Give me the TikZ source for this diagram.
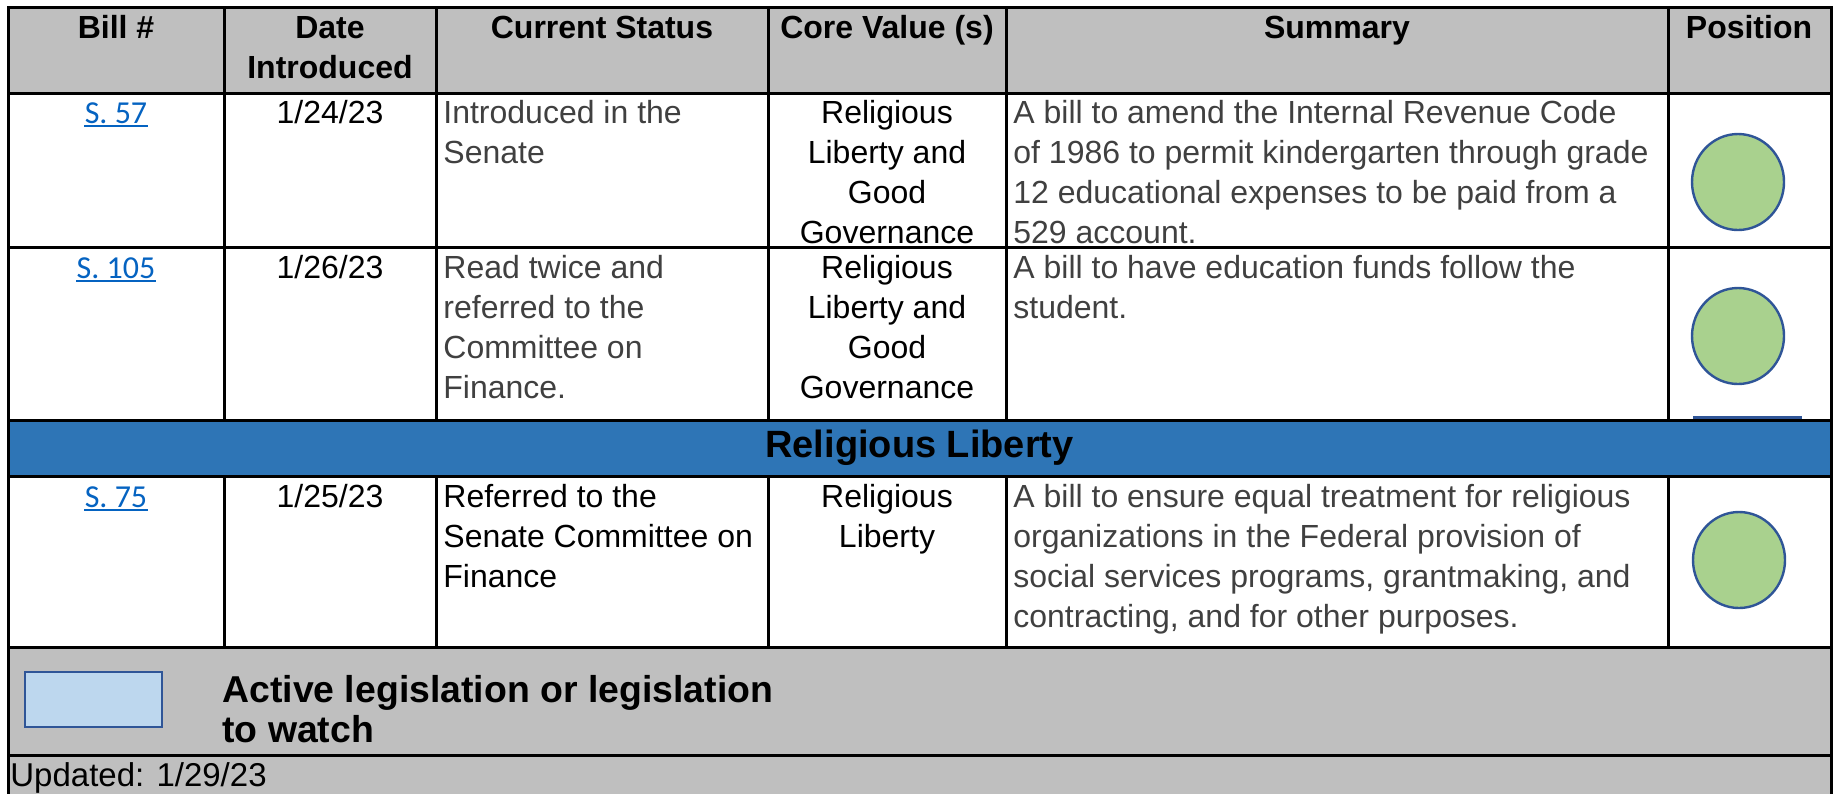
\documentclass[tikz,border=0pt]{standalone}
\usepackage{fontspec}
\setmainfont{Liberation Sans}
\newfontfamily\linkfont{Carlito}
\usetikzlibrary{shapes.geometric}
\definecolor{hdrgray}{HTML}{BFBFBF}
\definecolor{bandblue}{HTML}{2E75B6}
\definecolor{txtgray}{HTML}{404040}
\definecolor{linkblue}{HTML}{0563C1}
\definecolor{dotgreen}{HTML}{A9D18E}
\definecolor{dotedge}{HTML}{2F5597}
\definecolor{legfill}{HTML}{BDD7EE}
\newcommand\bodyf{\fontsize{16}{20}\selectfont}
\newcommand\hdrf{\fontsize{16}{20}\selectfont\bfseries}
\newcommand\bandf{\fontsize{19}{23}\selectfont\bfseries}
\newcommand\legf{\fontsize{18.7}{21}\selectfont\bfseries}
\newcommand\updf{\fontsize{16.5}{20}\selectfont}
\tikzset{
  grid/.style={line width=1.5pt, black},
  hdr/.style={anchor=base, inner sep=0pt, font=\hdrf, text=black},
  cl/.style={anchor=base, inner sep=0pt, font=\bodyf, text=black},
  gl/.style={anchor=base west, inner sep=0pt, font=\bodyf, text=txtgray},
  bl/.style={anchor=base west, inner sep=0pt, font=\bodyf, text=black},
  lnk/.style={anchor=base, inner sep=0pt, font=\linkfont\fontsize{16}{20}\selectfont, text=linkblue},
  uline/.style={linkblue, line width=1pt},
  dot/.style={ellipse, draw=dotedge, fill=dotgreen, line width=1.2pt, minimum width=46pt, minimum height=48pt, inner sep=0pt}
}
\begin{document}
\begin{tikzpicture}[x=0.5pt,y=-0.5pt]
\useasboundingbox (0,0) rectangle (1836,794);
% fills
\fill[hdrgray] (8,7) rectangle (1831,93);
\fill[bandblue] (8,420) rectangle (1831,476);
\fill[hdrgray] (8,647) rectangle (1831,794);
% grid
\foreach \yy in {7,93,247,420,476,647,755} \draw[grid] (8,\yy) -- (1831,\yy);
\foreach \xx in {224,436,768,1006,1668} {
  \draw[grid] (\xx,7) -- (\xx,420);
  \draw[grid] (\xx,476) -- (\xx,647);
}
\draw[grid] (8,6.25) -- (8,794);
\draw[grid] (1831,6.25) -- (1831,794);
% header
\node[hdr] (h1) at (116,38) {Bill \#};
\node[hdr] (h2a) at (330,38) {Date};
\node[hdr] (h2b) at (330,78) {Introduced};
\node[hdr] (h3) at (602,38) {Current Status};
\node[hdr] (h4) at (887,38) {Core Value (s)};
\node[hdr] (h5) at (1337,38) {Summary};
\node[hdr] (h6) at (1749,38) {Position};
% row 1
\node[lnk] (l1) at (116,123) {S. 57};
\draw[uline] ([yshift=-1.7pt]l1.base west) -- ([yshift=-1.7pt]l1.base east);
\node[cl] (d1) at (330,123) {1/24/23};
\node[gl] (s1a) at (443,123) {Introduced in the};
\node[gl] (s1b) at (443,163) {Senate};
\node[cl] (c1a) at (887,123) {Religious};
\node[cl] (c1b) at (887,163) {Liberty and};
\node[cl] (c1c) at (887,203) {Good};
\node[cl] (c1d) at (887,243) {Governance};
\node[gl] (m1a) at (1013,123) {A bill to amend the Internal Revenue Code};
\node[gl] (m1b) at (1013,163) {of 1986 to permit kindergarten through grade};
\node[gl] (m1c) at (1013,203) {12 educational expenses to be paid from a};
\node[gl] (m1d) at (1013,243) {529 account.};
\node[dot] (p1) at (1738,182) {};
% row 2
\node[lnk] (l2) at (116,278) {S. 105};
\draw[uline] ([yshift=-1.7pt]l2.base west) -- ([yshift=-1.7pt]l2.base east);
\node[cl] (d2) at (330,278) {1/26/23};
\node[gl] (s2a) at (443,278) {Read twice and};
\node[gl] (s2b) at (443,318) {referred to the};
\node[gl] (s2c) at (443,358) {Committee on};
\node[gl] (s2d) at (443,398) {Finance.};
\node[cl] (c2a) at (887,278) {Religious};
\node[cl] (c2b) at (887,318) {Liberty and};
\node[cl] (c2c) at (887,358) {Good};
\node[cl] (c2d) at (887,398) {Governance};
\node[gl] (m2a) at (1013,278) {A bill to have education funds follow the};
\node[gl] (m2b) at (1013,318) {student.};
\node[dot] (p2) at (1738,336) {};
\coordinate (bl1) at (1693,417.5);
\coordinate (bl2) at (1802,417.5);
\draw[dotedge, line width=1.2pt] (bl1) -- (bl2);
% band
\node[anchor=base, inner sep=0pt, font=\bandf, text=black] (band) at (919.5,457) {Religious Liberty};
% row 3
\node[lnk] (l3) at (116,507) {S. 75};
\draw[uline] ([yshift=-1.7pt]l3.base west) -- ([yshift=-1.7pt]l3.base east);
\node[cl] (d3) at (330,507) {1/25/23};
\node[bl] (s3a) at (443,507) {Referred to the};
\node[bl] (s3b) at (443,547) {Senate Committee on};
\node[bl] (s3c) at (443,587) {Finance};
\node[cl] (c3a) at (887,507) {Religious};
\node[cl] (c3b) at (887,547) {Liberty};
\node[gl] (m3a) at (1013,507) {A bill to ensure equal treatment for religious};
\node[gl] (m3b) at (1013,547) {organizations in the Federal provision of};
\node[gl] (m3c) at (1013,587) {social services programs, grantmaking, and};
\node[gl] (m3d) at (1013,627) {contracting, and for other purposes.};
\node[dot] (p3) at (1739,560) {};
% legend
\node[draw=dotedge, fill=legfill, line width=1.2pt, minimum width=68.5pt, minimum height=27.5pt, inner sep=0pt] (legbox) at (93.5,699.5) {};
\node[anchor=base west, inner sep=0pt, font=\legf, text=black] (leg1) at (222,702) {Active legislation or legislation};
\node[anchor=base west, inner sep=0pt, font=\legf, text=black] (leg2) at (222,742) {to watch};
\node[anchor=base west, inner sep=0pt, font=\updf, text=black] (upd) at (10,786) {Updated: 1/29/23};
\end{tikzpicture}
\end{document}
